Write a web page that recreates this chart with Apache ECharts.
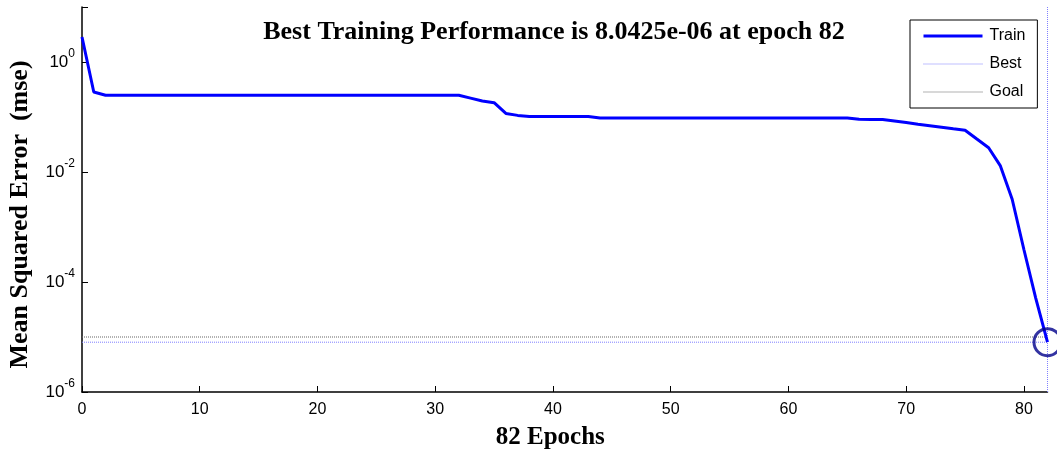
<!DOCTYPE html>
<html>
<head>
<meta charset="utf-8">
<title>Training performance</title>
<script src="https://cdn.jsdelivr.net/npm/echarts@6/dist/echarts.min.js"></script>
<style>
  html, body { margin: 0; padding: 0; background: #ffffff; }
  #chart { width: 1057px; height: 457px; }
</style>
</head>
<body>
<div id="chart"></div>
<script>
// Mean squared error of the training set, one value per epoch (0..82)
const trainMse = [
  2.85, 0.285,
  0.248, 0.248, 0.248, 0.248, 0.248, 0.248, 0.248, 0.248, 0.248, 0.248,
  0.248, 0.248, 0.248, 0.248, 0.248, 0.248, 0.248, 0.248, 0.248, 0.248,
  0.248, 0.248, 0.248, 0.248, 0.248, 0.248, 0.248, 0.248, 0.248, 0.248,
  0.248,
  0.220, 0.195, 0.182, 0.116, 0.107,
  0.102, 0.102, 0.102, 0.102, 0.102, 0.102,
  0.096, 0.096, 0.096, 0.096, 0.096, 0.096, 0.096, 0.096, 0.096, 0.096, 0.096,
  0.096, 0.096, 0.096, 0.096, 0.096, 0.096, 0.096, 0.096, 0.096, 0.096, 0.096,
  0.091, 0.090, 0.090,
  0.0845, 0.0793, 0.0741, 0.0696, 0.0653, 0.0610, 0.0573,
  0.0397, 0.0276, 0.0129, 0.0032, 0.000386, 0.000051, 0.0000080425
];
const bestEpoch = 82;
const bestPerf = 8.0425e-6;
const goalPerf = 1e-5;
const xRange = [0, 82];
const yRange = [1e-6, 10];
const legendNames = ['Train', 'Best', 'Goal'];
const titleText = 'Best Training Performance is 8.0425e-06 at epoch 82';
const xAxisName = '82 Epochs';
const yAxisName = 'Mean Squared Error  (mse)';

const trainPoints = trainMse.map((v, i) => [i, v]);

const serif = '"Liberation Serif", "Times New Roman", serif';
const sans = '"Liberation Sans", Arial, sans-serif';

const chart = echarts.init(document.getElementById('chart'), null, { renderer: 'canvas' });

chart.setOption({
  animation: false,
  backgroundColor: '#ffffff',
  title: {
    text: titleText,
    left: 549,
    top: 14,
    textAlign: 'center',
    textStyle: { fontFamily: serif, fontWeight: 'bold', fontSize: 26, color: '#000' }
  },
  legend: {
    orient: 'vertical',
    left: 910,
    top: 20,
    padding: [8, 12, 8, 12],
    itemWidth: 59,
    itemHeight: 14,
    itemGap: 12,
    borderColor: '#000',
    borderWidth: 1,
    backgroundColor: '#fff',
    // line-only legend keys
    itemStyle: { color: 'rgba(0,0,0,0)', borderWidth: 0, opacity: 0 },
    textStyle: { fontFamily: sans, fontSize: 16, color: '#000', padding: [0, 0, 0, 2] },
    data: [
      { name: legendNames[0], lineStyle: { width: 3, color: '#0000ff', type: 'solid' } },
      { name: legendNames[1], lineStyle: { width: 1, color: '#8080ff', type: 'dotted' } },
      { name: legendNames[2], lineStyle: { width: 1, color: '#666666', type: 'dotted' } }
    ]
  },
  grid: { left: 82, right: 9.5, top: 7, bottom: 65, containLabel: false, outerBoundsMode: 'none' },
  xAxis: {
    type: 'value',
    min: xRange[0],
    max: xRange[1],
    interval: 10,
    name: xAxisName,
    nameLocation: 'middle',
    nameGap: 33,
    nameTextStyle: { fontFamily: serif, fontWeight: 'bold', fontSize: 25, color: '#000', padding: [0, 29, 0, 0] },
    axisLine: { show: true, lineStyle: { color: '#000', width: 1.5 } },
    axisTick: { show: true, inside: true, length: 6, lineStyle: { color: '#000', width: 1 } },
    axisLabel: {
      showMaxLabel: false,
      margin: 10,
      fontFamily: sans, fontSize: 16, color: '#000'
    },
    splitLine: { show: false }
  },
  yAxis: {
    type: 'log',
    logBase: 10,
    min: yRange[0],
    max: yRange[1],
    interval: 2,
    name: yAxisName,
    nameLocation: 'middle',
    nameGap: 49,
    nameTextStyle: { fontFamily: serif, fontWeight: 'bold', fontSize: 26, color: '#000', padding: [0, 30, 0, 0] },
    axisLine: { show: true, lineStyle: { color: '#000', width: 1.5 } },
    axisTick: { show: true, inside: true, length: 6, lineStyle: { color: '#000', width: 1 } },
    axisLabel: {
      margin: 7,
      formatter: function (v) {
        const e = Math.round(Math.log10(v));
        if (e >= 1) return '';
        return '{b|10}{e|' + e + '}';
      },
      rich: {
        b: { fontFamily: sans, fontSize: 17, color: '#000' },
        e: { fontFamily: sans, fontSize: 12, color: '#000', padding: [0, 0, 16, 0] }
      }
    },
    splitLine: { show: false }
  },
  series: [
    {
      name: legendNames[0],
      type: 'line',
      data: trainPoints,
      showSymbol: false,
      symbol: 'none',
      lineStyle: { color: '#0000ff', width: 3 },
      itemStyle: { color: '#0000ff' },
      z: 5
    },
    {
      name: legendNames[1],
      type: 'line',
      data: [[xRange[0], bestPerf], [xRange[1], bestPerf]],
      symbol: 'none',
      clip: false,
      lineStyle: { color: '#8080ff', width: 1, type: 'dotted' },
      itemStyle: { color: '#8080ff' },
      z: 3
    },
    {
      name: legendNames[1],
      type: 'line',
      data: [[bestEpoch, yRange[0]], [bestEpoch, yRange[1]]],
      symbol: 'none',
      clip: false,
      lineStyle: { color: '#8080ff', width: 1, type: 'dotted' },
      itemStyle: { color: '#8080ff' },
      z: 3
    },
    {
      name: legendNames[2],
      type: 'line',
      data: [[xRange[0], goalPerf], [xRange[1], goalPerf]],
      symbol: 'none',
      clip: false,
      lineStyle: { color: '#666666', width: 1, type: 'dotted' },
      itemStyle: { color: '#666666' },
      z: 3
    },
    {
      name: 'best point',
      type: 'scatter',
      data: [[bestEpoch, bestPerf]],
      symbol: 'circle',
      symbolSize: 27,
      clip: false,
      itemStyle: { color: 'rgba(0,0,0,0)', borderColor: '#00008b', borderWidth: 3 },
      z: 6
    }
  ]
});
</script>
</body>
</html>
